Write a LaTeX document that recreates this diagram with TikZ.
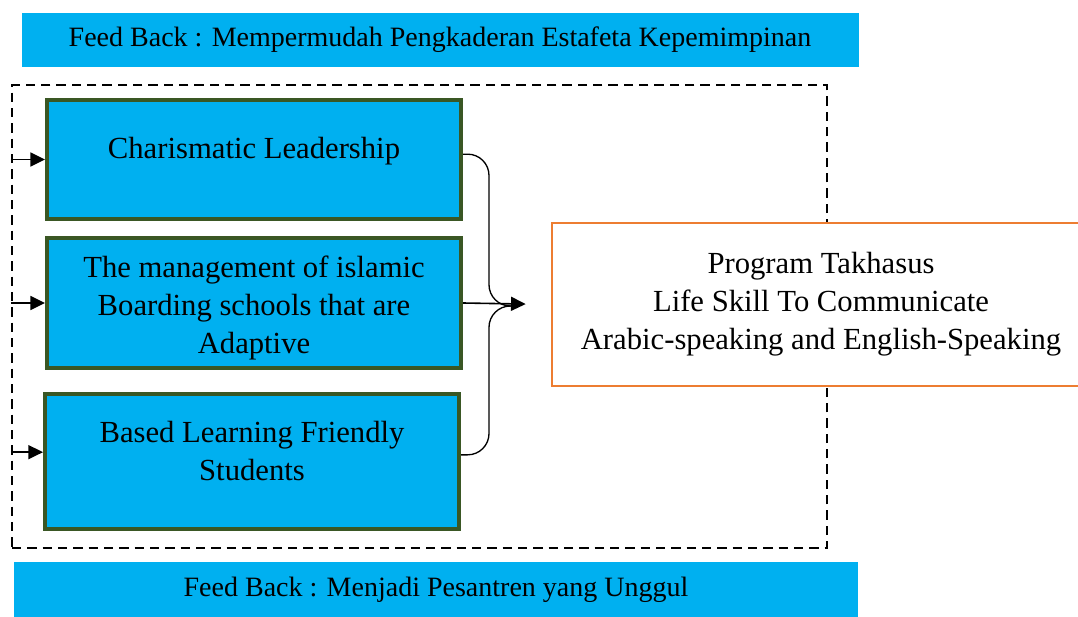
\documentclass[tikz,border=0pt]{standalone}
\usepackage{fontspec}
\setmainfont{Liberation Serif}
\usetikzlibrary{arrows.meta}
\definecolor{skyfill}{HTML}{00B0F0}
\definecolor{boxedge}{HTML}{3A5724}
\definecolor{progedge}{HTML}{ED7D31}

\begin{document}
\begin{tikzpicture} [x = 0.75pt, y = -0.75pt,
  bar/.style = {fill = skyfill, inner sep = 0pt, font = \fontsize{21}{26}\selectfont},
  inbox/.style = {draw = boxedge, line width = 3pt, fill = skyfill, minimum width = 310.5pt, inner sep = 0pt},
  boxtext/.style = {align = center, inner sep = 0pt, font = \fontsize{23}{28.5}\selectfont},
  tipped/.style = {-{Triangle[length = 11pt, width = 10.5pt]}, line width = 1.2pt},
  brace/.style = {rounded corners = 16pt, line width = 1pt}]
\useasboundingbox (0,0) rectangle (1078,617);
\node[bar, minimum width = 627.75pt, minimum height = 40.5pt](fb1) at (440,40){Feed Back : Mempermudah Pengkaderan Estafeta Kepemimpinan};
\node[draw, dash pattern = on 7pt off 4.5pt, line width = 1.8pt, minimum width = 611.25pt, minimum height = 347.25pt, inner sep = 0pt](frame) at (419.5,316.5){};
\node[inbox, minimum height = 89.25pt](c1) at (254,159.5){};
\node[inbox, minimum height = 97.5pt](c2) at (254,303){};
\node[inbox, minimum height = 101.25pt](c3) at (252,461.5){};
\node[boxtext](t1) at (254,151){Charismatic Leadership};
\node[boxtext](t2) at (254,308){The management of islamic\\Boarding schools that are\\Adaptive};
\node[boxtext](t3) at (252,451){Based Learning Friendly\\Students};
\node[boxtext, draw = progedge, line width = 2pt, fill = white, minimum width = 403.5pt, minimum height = 122.25pt](p) at (821,304.5){Program Takhasus\\Life Skill To Communicate\\Arabic-speaking and English-Speaking};
\node[bar, minimum width = 633pt, minimum height = 42pt](fb2) at (436,590){Feed Back : Menjadi Pesantren yang Unggul};
\coordinate (in3) at ([yshift = 7pt]c3.west);
\coordinate (out1) at ([yshift = 4pt]c1.east);
\coordinate (out3) at ([yshift = 5pt]c3.east);
\coordinate (bend) at (489,306);
\coordinate (meet) at (512,306);
\draw [tipped] (frame.west |- c1.west) -- (c1.west);
\draw [tipped] (frame.west |- c2.west) -- (c2.west);
\draw [tipped] (frame.west |- in3) -- (in3);
\draw [brace] (out1) -| (bend) -- (meet);
\draw [brace] (out3) -| (bend) -- (meet);
\draw [tipped, shorten >= 18.75pt] (c2.east) -- (p.west);
\end{tikzpicture}
\end{document}
